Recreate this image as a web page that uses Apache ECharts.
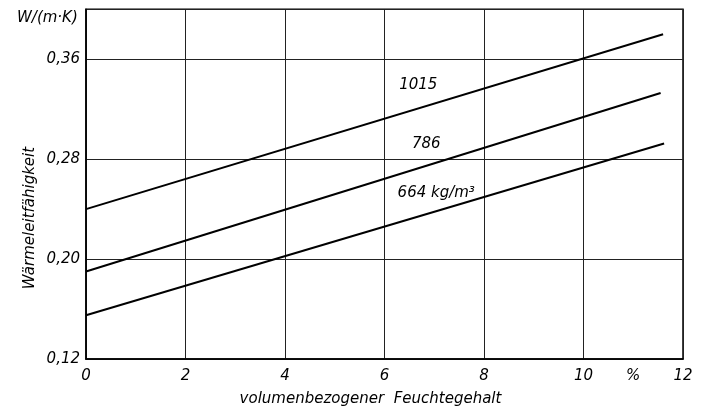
<!DOCTYPE html>
<html>
<head>
<meta charset="utf-8">
<script src="https://cdn.jsdelivr.net/npm/echarts@6/dist/echarts.min.js"></script>
<style>
  html, body { margin: 0; padding: 0; background: #fff; }
  #chart { width: 701px; height: 412px; }
</style>
</head>
<body>
<div id="chart"></div>
<script>
// ---- data ----
const curveNames = ['1015', '786', '664'];
const curve1015 = [[0, 0.240], [11.6, 0.380]];
const curve786 = [[0, 0.190], [11.55, 0.333]];
const curve664 = [[0, 0.155], [11.62, 0.2925]];
const curveLabels = ['1015', '786', '664 kg/m³'];
const curveLabelAt = [[6.68, 0.339], [6.84, 0.292], [7.04, 0.253]];
const xName = 'volumenbezogener  Feuchtegehalt';
const yName = 'Wärmeleitfähigkeit';
const yUnit = 'W/(m·K)';
const xUnit = '%';
const xUnitAt = 11;

const FONT = "'DejaVu Sans', sans-serif";
const txt = { fontFamily: FONT, fontStyle: 'italic', fontSize: 15, color: '#000' };

const chart = echarts.init(document.getElementById('chart'), null, { renderer: 'canvas' });

const curves = [curve1015, curve786, curve664];
const series = curves.map((d, i) => ({
  name: curveNames[i],
  type: 'line',
  data: d,
  symbol: 'none',
  lineStyle: { color: '#000', width: 2 },
  silent: true,
  z: 5
}));
series.push({
  type: 'scatter',
  data: curveLabelAt.map((p, i) => ({ value: p, name: curveLabels[i] })),
  symbolSize: 0,
  itemStyle: { opacity: 1, color: '#000' },
  label: {
    show: true, position: 'inside', opacity: 1,
    formatter: p => p.name,
    ...txt
  },
  silent: true,
  z: 6
});

chart.setOption({
  animation: false,
  backgroundColor: '#fff',
  title: {
    text: yUnit, left: 12, top: 6,
    textStyle: { ...txt, fontWeight: 'normal' }
  },
  grid: {
    left: 86, right: 18, top: 9.3, bottom: 52.7,
    show: true, borderColor: '#000', borderWidth: 1.5
  },
  xAxis: [{
    type: 'value', min: 0, max: 12, interval: 2,
    name: xName, nameLocation: 'middle', nameGap: 33,
    nameTextStyle: { ...txt, padding: [0, 28, 0, 0] },
    axisLine: { show: true, lineStyle: { color: '#000', width: 1.5 } },
    axisTick: { show: false },
    axisLabel: { ...txt, margin: 10, formatter: v => String(v) },
    splitLine: { show: true, lineStyle: { color: '#222', width: 1 } }
  }, {
    type: 'value', min: 0, max: 12, interval: 1, position: 'bottom',
    axisLine: { show: false }, axisTick: { show: false },
    axisLabel: { ...txt, margin: 10, formatter: v => (v === xUnitAt ? xUnit : '') },
    splitLine: { show: false }
  }],
  yAxis: {
    type: 'value', min: 0.12, max: 0.40, interval: 0.08,
    axisLine: { show: true, lineStyle: { color: '#000', width: 1.5 } },
    axisTick: { show: false },
    axisLabel: {
      ...txt, margin: 6, showMaxLabel: false,
      formatter: v => (Math.abs(v - 0.40) < 1e-6 ? '' : v.toFixed(2).replace('.', ','))
    },
    splitLine: { show: true, lineStyle: { color: '#222', width: 1 } }
  },
  graphic: [{
    type: 'text',
    x: 30, y: 218,
    rotation: Math.PI / 2,
    style: {
      text: yName, fontFamily: FONT, fontStyle: 'italic', fontSize: 15,
      fill: '#000', textAlign: 'center', textVerticalAlign: 'middle'
    }
  }],
  series: series
});
</script>
</body>
</html>
